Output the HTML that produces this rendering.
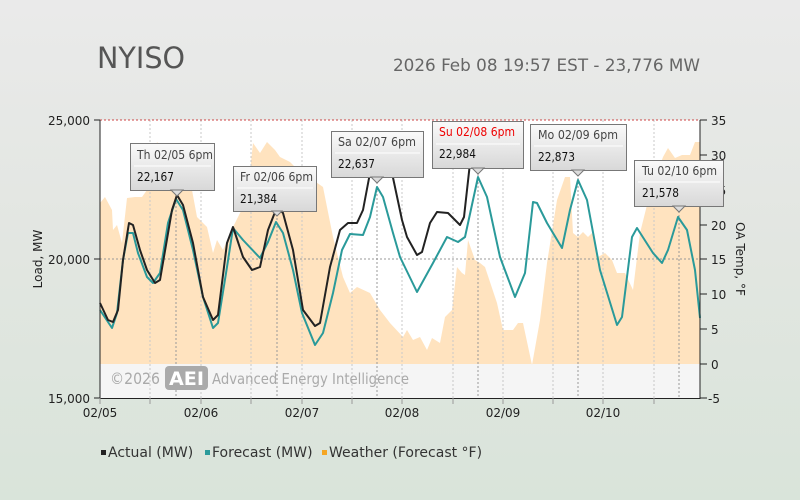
<!DOCTYPE html>
<html><head><meta charset="utf-8"><style>
body{margin:0;width:800px;height:500px;overflow:hidden;background:linear-gradient(#eaeaea,#e2e6e1 50%,#d9e4da);font-family:"Liberation Sans","DejaVu Sans",sans-serif;}
svg{position:absolute;left:0;top:0}
</style></head><body>
<svg width="800" height="500" viewBox="0 0 800 500" font-family="DejaVu Sans, Liberation Sans, sans-serif">
<defs><linearGradient id="tg" x1="0" y1="0" x2="0" y2="1"><stop offset="0" stop-color="#fafafa"/><stop offset="1" stop-color="#d8d8d8"/></linearGradient></defs>
<text x="97" y="68" font-size="29" fill="#555" textLength="88" lengthAdjust="spacingAndGlyphs">NYISO</text>
<text x="393" y="71" font-size="16.5" fill="#666" textLength="307" lengthAdjust="spacingAndGlyphs">2026 Feb 08 19:57 EST - 23,776 MW</text>
<rect x="100" y="120" width="600" height="278" fill="#fff"/>
<rect x="100" y="364" width="600" height="34" fill="#f5f5f5"/>
<polygon fill="#ffe3bf" points="100,364 100,203 105,197 112,210 113,230 117,225 122,243 127,198 135,197 142,197 147,190 157,142 167,153 177,193 187,180 192,190 197,217 207,227 213,253 217,240 223,250 233,227 240,213 247,200 253,143 260,153 267,142 275,150 280,157 290,162 300,172 313,180 323,187 333,237 343,277 350,293 357,287 370,293 380,310 390,323 403,337 407,330 413,340 420,337 427,350 432,338 440,343 445,317 452,310 457,267 462,273 465,275 468,240 475,260 480,263 485,267 497,303 503,330 513,330 518,323 523,323 532,365 540,320 547,263 557,200 565,177 570,177 573,233 578,237 583,232 588,237 592,233 598,257 605,253 612,260 617,273 625,273 633,290 640,233 650,193 663,157 668,148 675,158 682,155 690,155 695,142 700,142 700,364"/>
<g stroke="#c8c8c8" stroke-dasharray="2,2" stroke-width="1">
<line x1="150" y1="120" x2="150" y2="398"/><line x1="201" y1="120" x2="201" y2="398"/><line x1="251" y1="120" x2="251" y2="398"/><line x1="302" y1="120" x2="302" y2="398"/><line x1="352" y1="120" x2="352" y2="398"/><line x1="402" y1="120" x2="402" y2="398"/><line x1="453" y1="120" x2="453" y2="398"/><line x1="503" y1="120" x2="503" y2="398"/><line x1="553" y1="120" x2="553" y2="398"/><line x1="603" y1="120" x2="603" y2="398"/><line x1="654" y1="120" x2="654" y2="398"/>
</g>
<g stroke="#999" stroke-dasharray="2,2" stroke-width="1">
<line x1="176" y1="190" x2="176" y2="398"/><line x1="277" y1="210" x2="277" y2="398"/><line x1="377" y1="178" x2="377" y2="398"/><line x1="478" y1="170" x2="478" y2="398"/><line x1="578" y1="170" x2="578" y2="398"/><line x1="679" y1="207" x2="679" y2="398"/>
<line x1="100" y1="259" x2="700" y2="259"/>
</g>
<line x1="100" y1="120" x2="700" y2="120" stroke="#c44" stroke-dasharray="2,2"/>
<text x="110" y="384" font-size="16" fill="#aaa" textLength="50" lengthAdjust="spacingAndGlyphs">©2026</text>
<rect x="165" y="366" width="43" height="24" rx="4" fill="#aaa"/>
<text x="169" y="385" font-size="19" fill="#fff" font-weight="bold" textLength="35" lengthAdjust="spacingAndGlyphs">AEI</text>
<text x="212" y="384" font-size="15" fill="#aaa" textLength="197" lengthAdjust="spacingAndGlyphs">Advanced Energy Intelligence</text>
<polyline fill="none" stroke="#2a9a9a" stroke-width="2" stroke-linejoin="round" points="100,310 112,328 117,313 123,260 128,233 133,233 138,253 147,277 153,283 160,273 168,223 176,199 183,210 193,250 203,297 213,328 218,323 227,267 233,228 243,240 260,258 268,242 276,222 283,233 293,270 302,313 315,345 323,333 333,293 342,250 350,234 363,235 370,217 377,187 383,197 393,233 400,257 417,292 433,263 447,237 458,242 465,237 478,177 487,197 500,257 515,297 525,273 533,202 537,203 547,223 562,248 570,210 578,180 587,200 600,270 617,325 622,317 632,237 637,228 653,253 662,263 668,250 678,217 687,230 695,270 700,318"/>
<polyline fill="none" stroke="#222" stroke-width="2" stroke-linejoin="round" points="100,303 108,320 113,322 118,310 123,260 129,223 133,225 140,250 147,270 155,283 160,280 172,210 177,195 183,205 193,243 203,297 213,320 218,315 227,243 233,227 243,257 252,270 260,267 268,230 277,207 283,213 293,250 303,310 315,326 320,323 330,267 340,230 348,223 357,223 363,210 370,173 377,140 385,150 392,173 402,220 407,237 417,255 422,252 430,223 437,212 448,213 460,225 464,217 470,163 473,147 477,139 483,150"/>
<line x1="100" y1="120" x2="100" y2="399" stroke="#222"/>
<line x1="100" y1="398.5" x2="700" y2="398.5" stroke="#222"/>
<line x1="700" y1="120" x2="700" y2="399" stroke="#222"/>
<g stroke="#222"><line x1="94" y1="120" x2="100" y2="120"/><line x1="94" y1="259" x2="100" y2="259"/><line x1="94" y1="398" x2="100" y2="398"/></g>
<g stroke="#999"><line x1="100" y1="398" x2="100" y2="404"/><line x1="150" y1="398" x2="150" y2="404"/><line x1="201" y1="398" x2="201" y2="404"/><line x1="251" y1="398" x2="251" y2="404"/><line x1="302" y1="398" x2="302" y2="404"/><line x1="352" y1="398" x2="352" y2="404"/><line x1="402" y1="398" x2="402" y2="404"/><line x1="453" y1="398" x2="453" y2="404"/><line x1="503" y1="398" x2="503" y2="404"/><line x1="553" y1="398" x2="553" y2="404"/><line x1="603" y1="398" x2="603" y2="404"/><line x1="654" y1="398" x2="654" y2="404"/></g>
<g font-size="12" fill="#222" text-anchor="end"><text x="90" y="125">25,000</text><text x="90" y="264">20,000</text><text x="90" y="403">15,000</text></g>
<g font-size="12" fill="#222" text-anchor="middle"><text x="100" y="417">02/05</text><text x="201" y="417">02/06</text><text x="302" y="417">02/07</text><text x="402" y="417">02/08</text><text x="503" y="417">02/09</text><text x="603" y="417">02/10</text></g>
<g stroke="#222"><line x1="700" y1="120" x2="707" y2="120"/><line x1="700" y1="155" x2="707" y2="155"/><line x1="700" y1="190" x2="707" y2="190"/><line x1="700" y1="225" x2="707" y2="225"/><line x1="700" y1="259" x2="707" y2="259"/><line x1="700" y1="294" x2="707" y2="294"/><line x1="700" y1="329" x2="707" y2="329"/><line x1="700" y1="364" x2="707" y2="364"/><line x1="700" y1="398" x2="707" y2="398"/></g>
<g font-size="12" fill="#222"><text x="711" y="125">35</text><text x="711" y="160">30</text><text x="711" y="195">25</text><text x="711" y="230">20</text><text x="711" y="264">15</text><text x="711" y="299">10</text><text x="711" y="334">5</text><text x="711" y="369">0</text><text x="708" y="403">-5</text></g>
<text transform="translate(42,259) rotate(-90)" font-size="12" fill="#222" text-anchor="middle">Load, MW</text>
<text transform="translate(736,259) rotate(90)" font-size="12" fill="#222" text-anchor="middle">OA Temp, °F</text>
<g font-size="12.5" lengthAdjust="spacingAndGlyphs">
<g><rect x="130.5" y="143.5" width="84" height="47" fill="url(#tg)" stroke="#777"/><polygon points="171,190 177,196 183,190" fill="#ddd" stroke="#777"/><line x1="134" y1="166" x2="211" y2="166" stroke="#fff"/><text x="137" y="159" fill="#444" textLength="76" lengthAdjust="spacingAndGlyphs">Th 02/05 6pm</text><text x="137" y="181" fill="#111" textLength="37" lengthAdjust="spacingAndGlyphs">22,167</text></g>
<g><rect x="233.5" y="166.5" width="83" height="45" fill="url(#tg)" stroke="#777"/><polygon points="272,211 277,216 282,211" fill="#ddd" stroke="#777"/><line x1="237" y1="188" x2="313" y2="188" stroke="#fff"/><text x="240" y="181" fill="#444" textLength="73" lengthAdjust="spacingAndGlyphs">Fr 02/06 6pm</text><text x="240" y="203" fill="#111" textLength="37" lengthAdjust="spacingAndGlyphs">21,384</text></g>
<g><rect x="331.5" y="131.5" width="92" height="46" fill="url(#tg)" stroke="#777"/><polygon points="371,177 377,183 383,177" fill="#ddd" stroke="#777"/><line x1="335" y1="153" x2="420" y2="153" stroke="#fff"/><text x="338" y="146" fill="#444" textLength="78" lengthAdjust="spacingAndGlyphs">Sa 02/07 6pm</text><text x="338" y="168" fill="#111" textLength="37" lengthAdjust="spacingAndGlyphs">22,637</text></g>
<g><rect x="432.5" y="121.5" width="91" height="47" fill="url(#tg)" stroke="#777"/><polygon points="472,168 478,174 484,168" fill="#ddd" stroke="#777"/><line x1="436" y1="144" x2="520" y2="144" stroke="#fff"/><text x="439" y="136" fill="#e00" textLength="76" lengthAdjust="spacingAndGlyphs">Su 02/08 6pm</text><text x="439" y="158" fill="#111" textLength="37" lengthAdjust="spacingAndGlyphs">22,984</text></g>
<g><rect x="530.5" y="124.5" width="96" height="46" fill="url(#tg)" stroke="#777"/><polygon points="572,170 578,176 584,170" fill="#ddd" stroke="#777"/><line x1="534" y1="146" x2="623" y2="146" stroke="#fff"/><text x="538" y="139" fill="#444" textLength="80" lengthAdjust="spacingAndGlyphs">Mo 02/09 6pm</text><text x="538" y="161" fill="#111" textLength="37" lengthAdjust="spacingAndGlyphs">22,873</text></g>
<g><rect x="634.5" y="160.5" width="89" height="46" fill="url(#tg)" stroke="#777"/><polygon points="673,206 679,212 685,206" fill="#ddd" stroke="#777"/><line x1="638" y1="182" x2="720" y2="182" stroke="#fff"/><text x="642" y="175" fill="#444" textLength="75" lengthAdjust="spacingAndGlyphs">Tu 02/10 6pm</text><text x="642" y="197" fill="#111" textLength="37" lengthAdjust="spacingAndGlyphs">21,578</text></g>
</g>
<g font-size="14" fill="#333">
<rect x="101" y="450" width="5" height="5" fill="#222"/><text x="108" y="457">Actual (MW)</text>
<rect x="205" y="450" width="5" height="5" fill="#2a9a9a"/><text x="212" y="457">Forecast (MW)</text>
<rect x="322" y="450" width="5" height="5" fill="#f5a623"/><text x="329" y="457">Weather (Forecast °F)</text>
</g>
</svg>
</body></html>
